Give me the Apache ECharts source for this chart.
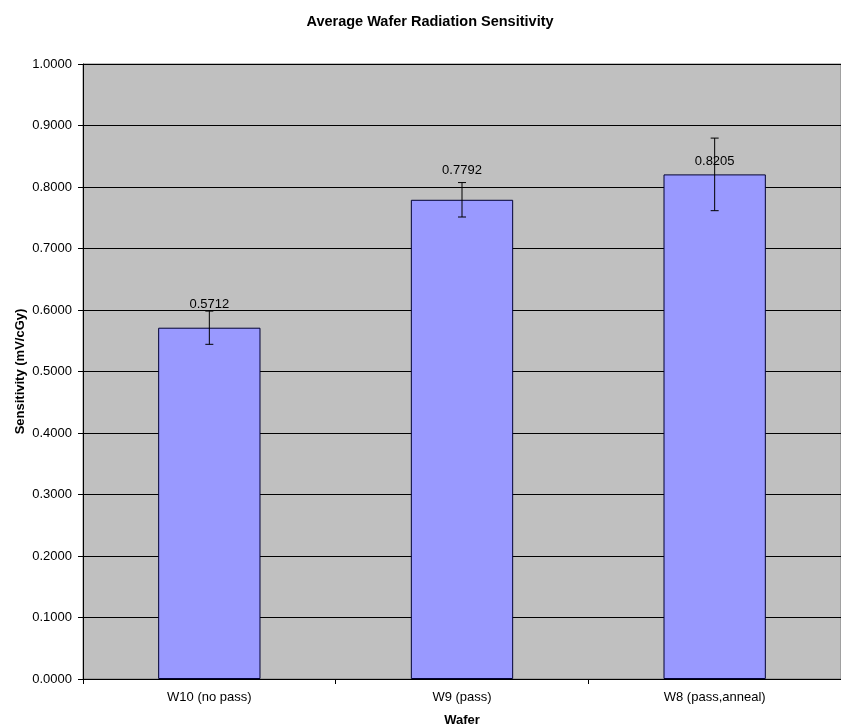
<!DOCTYPE html>
<html>
<head>
<meta charset="utf-8">
<script src="https://cdn.jsdelivr.net/npm/echarts@6/dist/echarts.min.js"></script>
<style>html,body{margin:0;padding:0;background:#fff;}#c{width:841px;height:727px;}</style>
</head>
<body>
<div id="c"></div>
<script>
var categories = ['W10 (no pass)', 'W9 (pass)', 'W8 (pass,anneal)'];
var sensitivity = [0.5712, 0.7792, 0.8205];
var errPlus = [0.027, 0.028, 0.059];
var errMinus = [0.027, 0.028, 0.059];
var yTicks = [0, 0.1, 0.2, 0.3, 0.4, 0.5, 0.6, 0.7, 0.8, 0.9, 1.0];

var labelDist = [17, 23, 6];
var font = '"Liberation Sans", Arial, sans-serif';

var chart = echarts.init(document.getElementById('c'), null, {renderer: 'canvas'});
chart.setOption({
  animation: false,
  backgroundColor: '#ffffff',
  title: {
    text: 'Average Wafer Radiation Sensitivity',
    left: 425, textAlign: 'center', top: 9,
    textStyle: {fontFamily: font, fontSize: 14.5, fontWeight: 'bold', color: '#000'}
  },
  grid: {left: 83, right: 0, top: 64, bottom: 48, show: true, outerBoundsMode: 'none', containLabel: false,
    backgroundColor: '#C0C0C0', borderColor: '#808080', borderWidth: 1},
  xAxis: {
    type: 'category', data: categories,
    name: 'Wafer', nameLocation: 'middle', nameGap: 35, nameMoveOverlap: false,
    nameTextStyle: {fontFamily: font, fontSize: 13, fontWeight: 'bold', color: '#000'},
    axisLine: {lineStyle: {color: '#000', width: 1}},
    axisTick: {show: true, alignWithLabel: false, length: 5, lineStyle: {color: '#000'}},
    axisLabel: {fontFamily: font, fontSize: 13, color: '#000', margin: 12},
    splitLine: {show: false}
  },
  yAxis: {
    type: 'value', min: yTicks[0], max: yTicks[yTicks.length - 1], interval: 0.1,
    name: 'Sensitivity (mV/cGy)', nameLocation: 'middle', nameGap: 56, nameRotate: 90, nameMoveOverlap: false,
    nameTextStyle: {fontFamily: font, fontSize: 13, fontWeight: 'bold', color: '#000'},
    axisLine: {show: true, lineStyle: {color: '#000', width: 1}},
    axisTick: {show: true, inside: false, length: 5, lineStyle: {color: '#000'}},
    axisLabel: {fontFamily: font, fontSize: 13, color: '#000', margin: 11, formatter: function (v) { return v.toFixed(4); }},
    splitLine: {show: true, lineStyle: {color: '#000', width: 1}}
  },
  series: [
    {
      type: 'bar', barWidth: '40.5%',
      data: sensitivity.map(function (v, i) {
        return {value: v, label: {distance: labelDist[i]}};
      }),
      itemStyle: {color: '#9999FF', borderColor: '#000033', borderWidth: 1},
      label: {show: true, position: 'top', fontFamily: font, fontSize: 13, color: '#000',
        formatter: function (p) { return p.value.toFixed(4); }},
      z: 2
    },
    {
      type: 'custom',
      data: sensitivity.map(function (v, i) { return [i, v + errPlus[i], v - errMinus[i]]; }),
      encode: {x: 0, y: [1, 2]},
      renderItem: function (params, api) {
        var x = api.value(0);
        var hi = api.coord([x, api.value(1)]);
        var lo = api.coord([x, api.value(2)]);
        var hw = 4;
        var st = {stroke: '#000', lineWidth: 1};
        return {type: 'group', children: [
          {type: 'line', shape: {x1: hi[0], y1: hi[1], x2: lo[0], y2: lo[1]}, style: st},
          {type: 'line', shape: {x1: hi[0] - hw, y1: hi[1], x2: hi[0] + hw, y2: hi[1]}, style: st},
          {type: 'line', shape: {x1: lo[0] - hw, y1: lo[1], x2: lo[0] + hw, y2: lo[1]}, style: st}
        ]};
      },
      z: 5
    }
  ]
});
</script>
</body>
</html>
